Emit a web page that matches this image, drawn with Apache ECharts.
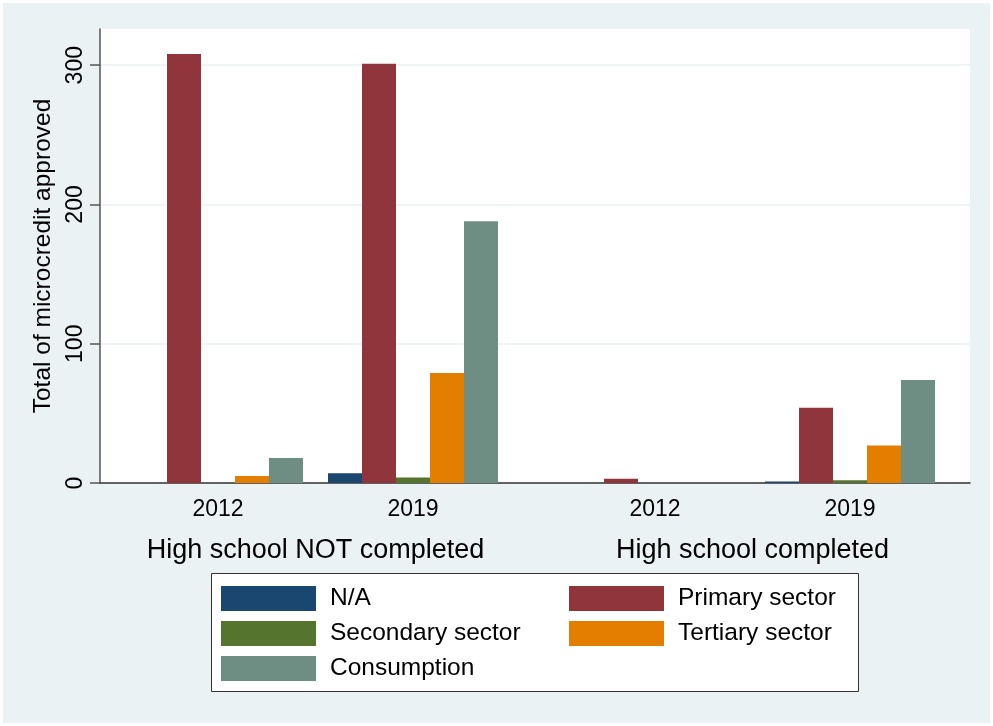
<!DOCTYPE html>
<html><head><meta charset="utf-8">
<script src="https://cdn.jsdelivr.net/npm/echarts@6/dist/echarts.min.js"></script>
<style>html,body{margin:0;padding:0;background:#fff}#c{width:993px;height:726px}</style>
</head><body><div id="c"></div>
<script>
const years = ['2012', '2019'];
const groups = ['High school NOT completed', 'High school completed'];
const seriesNames = ['N/A', 'Primary sector', 'Secondary sector', 'Tertiary sector', 'Consumption'];
// values per group: [2012, 2019]
const naValues = [[0, 7], [0, 1]];
const primaryValues = [[308, 301], [3, 54]];
const secondaryValues = [[0, 4], [0, 2]];
const tertiaryValues = [[5, 79], [0, 27]];
const consumptionValues = [[18, 188], [0, 74]];
const yTicks = [0, 100, 200, 300];

const colors = ['#1A476F', '#90353B', '#55752F', '#E37E00', '#6E8E84'];
const allValues = [naValues, primaryValues, secondaryValues, tertiaryValues, consumptionValues];
const FONT = 'Liberation Sans';
const YMAX = 326;

const series = [];
for (let g = 0; g < 2; g++) {
  for (let s = 0; s < 5; s++) {
    series.push({
      type: 'bar', name: seriesNames[s], xAxisIndex: g + 1, yAxisIndex: g + 1,
      data: allValues[s][g], barWidth: 34, barGap: '0%',
      itemStyle: { color: colors[s] }, silent: true
    });
  }
}

const chart = echarts.init(document.getElementById('c'));
chart.setOption({
  backgroundColor: '#fff',
  animation: false,
  graphic: [
    { type: 'rect', z: -10, shape: { x: 3, y: 3, width: 987, height: 720 }, style: { fill: '#EAF2F3' } },
    { type: 'rect', z: 1, shape: { x: 211.5, y: 573.5, width: 647, height: 118 }, style: { fill: '#fff', stroke: '#333', lineWidth: 1 } }
  ],
  grid: [
    { left: 100, right: 23, top: 29, bottom: 243, show: true, backgroundColor: '#fff', borderWidth: 0 },
    { left: 120.5, width: 390, top: 29, bottom: 243 },
    { left: 557.5, width: 390, top: 29, bottom: 243 }
  ],
  xAxis: [
    { gridIndex: 0, type: 'value', min: 0, max: 1, axisLabel: { show: false }, axisTick: { show: false }, splitLine: { show: false },
      axisLine: { show: true, lineStyle: { color: '#333', width: 1.5 } } },
    { gridIndex: 1, type: 'category', data: years, axisLine: { show: false }, axisTick: { show: false },
      axisLabel: { margin: 15, fontFamily: FONT, fontSize: 23, color: '#000' },
      name: groups[0], nameLocation: 'middle', nameGap: 54, nameTextStyle: { fontFamily: FONT, fontSize: 27, color: '#000' } },
    { gridIndex: 2, type: 'category', data: years, axisLine: { show: false }, axisTick: { show: false },
      axisLabel: { margin: 15, fontFamily: FONT, fontSize: 23, color: '#000' },
      name: groups[1], nameLocation: 'middle', nameGap: 54, nameTextStyle: { fontFamily: FONT, fontSize: 27, color: '#000' } }
  ],
  yAxis: [
    { gridIndex: 0, type: 'value', min: 0, max: YMAX, interval: 100,
      axisLine: { show: true, lineStyle: { color: '#555', width: 1.5 } },
      axisTick: { show: true, length: 10, customValues: yTicks, lineStyle: { color: '#555', width: 1.5 } },
      axisLabel: { customValues: yTicks, rotate: 90, margin: 13, fontFamily: FONT, fontSize: 23, color: '#000' },
      splitLine: { show: true, lineStyle: { color: '#EAF2F3', width: 1.5 } },
      name: 'Total of microcredit approved', nameLocation: 'middle', nameGap: 43,
      nameTextStyle: { fontFamily: FONT, fontSize: 24.5, color: '#000' } },
    { gridIndex: 1, type: 'value', min: 0, max: YMAX, show: false, splitLine: { show: false } },
    { gridIndex: 2, type: 'value', min: 0, max: YMAX, show: false, splitLine: { show: false } }
  ],
  legend: [
    { data: ['N/A', 'Secondary sector', 'Consumption'], orient: 'vertical', left: 221, top: 586, padding: 0,
      itemWidth: 95, itemHeight: 25, itemGap: 10, icon: 'rect', selectedMode: false, z: 5,
      textStyle: { fontFamily: FONT, fontSize: 24.5, color: '#000', padding: [0, 0, 0, 9] } },
    { data: ['Primary sector', 'Tertiary sector'], orient: 'vertical', left: 569, top: 586, padding: 0,
      itemWidth: 95, itemHeight: 25, itemGap: 10, icon: 'rect', selectedMode: false, z: 5,
      textStyle: { fontFamily: FONT, fontSize: 24.5, color: '#000', padding: [0, 0, 0, 9] } }
  ],
  series: series
});
</script></body></html>
